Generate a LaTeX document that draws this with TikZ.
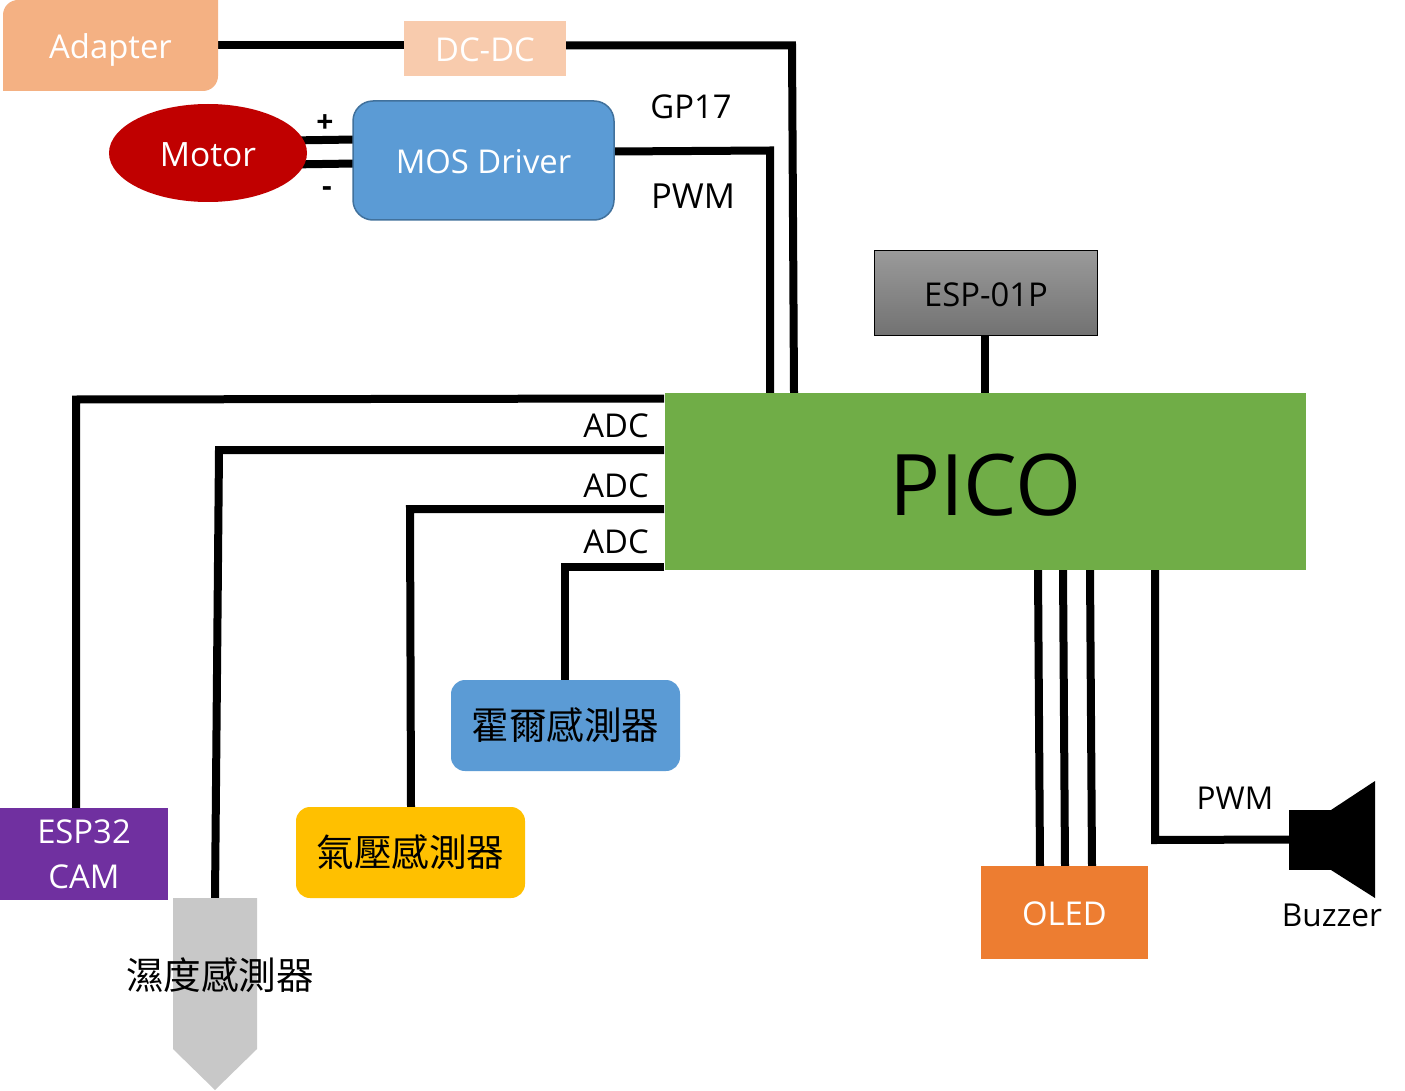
\documentclass[tikz,border=0pt]{standalone}
\usepackage{fontspec}
\usetikzlibrary{shapes.geometric}
\setmainfont{Open Sans}
\newfontfamily\cjk{Noto Sans CJK TC}
\newcommand{\fs}[1]{\fontsize{#1}{#1}\selectfont}
\definecolor{cAdapter}{HTML}{F4B183}
\definecolor{cDC}{HTML}{F8CBAD}
\definecolor{cMotor}{HTML}{C00000}
\definecolor{cBlue}{HTML}{5B9BD5}
\definecolor{cBlueLine}{HTML}{41719C}
\definecolor{cPico}{HTML}{70AD47}
\definecolor{cOled}{HTML}{ED7D31}
\definecolor{cCam}{HTML}{7030A0}
\definecolor{cYel}{HTML}{FFC000}
\definecolor{cGray}{HTML}{C8C8C8}
\definecolor{cEspTop}{HTML}{9A9A9A}
\definecolor{cEspBot}{HTML}{727272}
\begin{document}
\begin{tikzpicture}[x=1pt,y=-1pt,
  wire/.style={line width=8pt,black,line join=miter},
  blockbox/.style={rectangle,inner sep=0pt,align=center},
  lbl/.style={inner sep=0pt,text=black,font=\fs{32.8}},
  whitetext/.style={text=white,font=\fs{32.8},text height=26pt,text depth=0pt},
  cjktext/.style={font=\cjk\fs{37.6},text=black}]
\useasboundingbox (0,0) rectangle (1405,1091);
\fill[white] (0,0) rectangle (1405,1091);
% wires first, so that the nodes cover their ends
\coordinate (motorP) at (290,140.5);
\coordinate (motorN) at (290,164.5);
\coordinate (mosP) at (355,139.5);
\coordinate (mosN) at (355,163.5);
\draw[wire] (218,45.5) -- (404,45.5);
\draw[wire] (566,45.5) -- (792,45.5) -- (794,393);
\draw[wire] (614,151.5) -- (770,150.5) -- (770,393);
\draw[wire] (motorP) -- (mosP);
\draw[wire] (motorN) -- (mosN);
\draw[wire] (985,335) -- (985,393);
\draw[wire] (664,398.5) -- (76,399.5) -- (76,808);
\draw[wire] (664,450) -- (219,450) -- (215,898);
\draw[wire] (664,509) -- (410,509) -- (411,807);
\draw[wire] (664,567) -- (565,567) -- (565,680);
\draw[wire] (1038,570) -- (1040,866);
\draw[wire] (1063,570) -- (1065,866);
\draw[wire] (1090,570) -- (1092,866);
\draw[wire] (1155,570) -- (1155,840) -- (1289,839.5);
% nodes
\fill[cAdapter] (3,91) [rounded corners=15pt] -- (3,0) [sharp corners] -- (218,0) [rounded corners=15pt] -- (218,91) [sharp corners] -- cycle;
\node[blockbox,minimum width=215pt,minimum height=91pt,whitetext] (adapter) at (110.5,45.5) {Adapter};
\node[blockbox,fill=cDC,minimum width=162pt,minimum height=55pt,whitetext] (dcdc) at (485,48.5) {DC-DC};
\node[ellipse,inner sep=0pt,fill=cMotor,minimum width=198pt,minimum height=98pt,whitetext,text height=27pt,font=\fs{33.5}] (motor) at (208,153) {Motor};
\node[blockbox,fill=cBlue,draw=cBlueLine,line width=1.5pt,rounded corners=20pt,minimum width=261pt,minimum height=119pt,whitetext] (mos) at (483.5,160.5) {MOS Driver};
\node[blockbox,draw=black,line width=1pt,top color=cEspTop,bottom color=cEspBot,minimum width=223pt,minimum height=84pt,font=\fs{32.8},text height=26pt,text depth=0pt] (esp) at (986,293) {ESP-01P};
\node[blockbox,fill=cPico,minimum width=641pt,minimum height=177pt,font=\fs{85},text height=68pt,text depth=0pt] (pico) at (985.5,481.5) {PICO};
\node[blockbox,fill=cBlue,rounded corners=14pt,minimum width=229pt,minimum height=91pt,cjktext] (hall) at (565.5,725.5) {霍爾感測器};
\node[blockbox,fill=cYel,rounded corners=14pt,minimum width=229pt,minimum height=91pt,cjktext] (baro) at (410.5,852.5) {氣壓感測器};
\node[blockbox,fill=cCam,minimum width=168pt,minimum height=92pt,text=white,font=\fontsize{32.8}{45}\selectfont] (cam) at (84,854) {ESP32\\CAM};
\node[blockbox,fill=cOled,minimum width=167pt,minimum height=93pt,whitetext,text height=25pt] (oled) at (1064.5,912.5) {OLED};
\fill[cGray] (173,898) -- (257,898) -- (257,1049) -- (215,1090) -- (173,1049) -- cycle;
\node[inner sep=0pt,cjktext] (hum) at (220,975.5) {濕度感測器};
\fill[black] (1289,810) rectangle (1331,870);
\fill[black] (1331,810) -- (1375,781) -- (1375,898) -- (1331,870) -- cycle;
\node[lbl] (gp) at (691,107) {GP17};
\node[lbl,font=\fs{34.5}] (pwma) at (693,196.5) {PWM};
\node[lbl] (adc1) at (616,426) {ADC};
\node[lbl] (adc2) at (616,486) {ADC};
\node[lbl] (adc3) at (616,542) {ADC};
\node[lbl,font=\fs{31.5}] (pwmb) at (1235,798) {PWM};
\node[lbl,font=\fs{31.6}] (buzz) at (1332,915) {Buzzer};
\node[lbl,font=\bfseries\fs{30}] (plus) at (325,124) {+};
\node[lbl,font=\bfseries\fs{30}] (minus) at (327,192) {-};
\end{tikzpicture}
\end{document}
